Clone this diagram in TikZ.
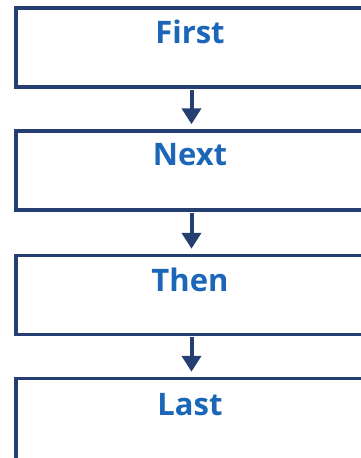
\documentclass[tikz,border=0pt]{standalone}
\usepackage{fontspec}
\setmainfont{Open Sans}
\usetikzlibrary{arrows.meta}
\definecolor{navy}{HTML}{253F72}
\definecolor{txtblue}{HTML}{1B66B8}
\begin{document}
\begin{tikzpicture}[x=1pt,y=-1pt,
  stepbox/.style={draw=navy,line width=3.5pt,minimum width=356pt,minimum height=79pt,inner sep=0pt,fill=white},
  label/.style={text=txtblue,font=\bfseries\fontsize{31}{31}\selectfont,inner sep=0pt},
  flow/.style={draw=navy,line width=4pt,-{Triangle[width=19pt,length=16pt]},shorten >=5pt,shorten <=1pt}]
\useasboundingbox (0,0) rectangle (361,458);
\clip (0,0) rectangle (361,458);
\node[stepbox] (b1) at (194,47.5) {};
\node[stepbox] (b2) at (194,170.5) {};
\node[stepbox] (b3) at (194,295) {};
\node[stepbox,minimum height=100pt] (b4) at (194,428.5) {};
\node[label] (t1) at (190,32) {First};
\node[label] (t2) at (190,155) {Next};
\node[label] (t3) at (190,280) {Then};
\node[label] (t4) at (190,405) {Last};
\draw[flow] (b1.south -| 191.5,0) -- (b2.north -| 191.5,0);
\draw[flow] (b2.south -| 191.5,0) -- (b3.north -| 191.5,0);
\draw[flow] (b3.south -| 191.5,0) -- (b4.north -| 191.5,0);
\end{tikzpicture}
\end{document}
